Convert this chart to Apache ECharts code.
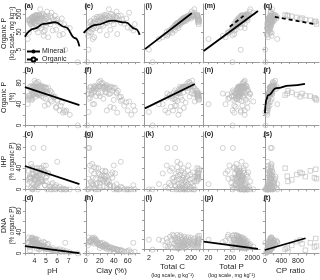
<!DOCTYPE html>
<html><head><meta charset="utf-8">
<script src="https://cdn.jsdelivr.net/npm/echarts@6/dist/echarts.min.js"></script>
<style>html,body{margin:0;padding:0;background:#fff}#c{width:320px;height:280px}</style>
</head><body><div id="c"></div>
<script>
// ---- Mineral soils (one entry per sample) ----
const mPH   = [7.8,6.7,3.4,5.2,6.2,4.8,6.5,5.6,4.3,5.9,4.6,6.8,4.1,5.0,3.9,5.4,4.4,6.3,4.7,3.8,5.1,4.2,7.1,4.9,4.0,5.3,4.5,3.7,5.7,4.3,4.8,4.1,6.0,4.6,3.9,5.0,4.2,5.5,4.4,3.8,4.7,5.2,4.0,6.4,4.5,3.6,4.9,4.2,5.4,4.6,3.9,5.0,4.3,5.8,4.1,4.7,3.7,4.4,5.1,4.0,4.8,4.2,3.8,4.5,5.5,4.1,6.6,6.0,5.9,3.5,4.8,4.9];
const mClay = [2,4,10,12,30,6,45,20,8,35,15,60,10,25,5,40,18,55,22,12,30,8,65,28,14,35,20,9,48,16,24,11,52,32,6,38,18,44,26,13,30,42,20,58,27,7,34,22,46,28,15,40,19,50,24,36,12,30,44,21,38,26,16,33,62,28,70,50,40,4,3,68];
const mC    = [3,2,6,9,12,14,16,18,20,22,25,28,30,32,35,36,38,40,42,44,46,48,50,50,55,58,60,62,65,68,70,72,75,78,80,82,85,88,90,95,98,100,105,110,112,115,125,130,135,140,145,150,160,170,175,185,195,205,215,225,240,255,270,285,300,310,60,45,90,26,15,34];
const mP    = [250,590,20,120,250,180,300,220,150,350,280,600,240,400,260,500,320,700,380,300,450,350,900,480,400,600,450,380,800,500,560,430,1000,600,450,700,520,900,620,500,750,850,600,1200,700,520,900,700,1100,800,650,1000,820,1400,780,1100,700,1000,1500,900,1300,1100,900,1600,2200,1200,900,650,1200,160,90,300];
const mCP   = [16,10,300,75,48,78,53,82,133,63,89,47,125,80,135,72,119,57,110,147,102,137,56,104,138,97,133,163,81,136,125,167,75,130,178,117,163,98,145,190,131,118,175,92,160,221,139,186,123,175,223,150,195,121,224,168,279,205,143,250,185,232,300,178,136,258,67,69,75,163,167,113];
const mOrgP = [1,5,20,25,33,50,38,60,47,66,82,88,72,110,94,132,105,143,126,99,154,115,82,165,149,198,182,138,231,192,220,165,264,231,176,275,209,308,248,198,297,330,242,286,275,209,358,286,396,330,264,385,341,412,330,520,286,418,700,374,468,440,352,950,600,451,138,165,220,44,30,60];
const mPct  = [0,25,40,40,28,52,24,55,58,35,55,28,62,50,66,48,60,37,61,63,62,60,20,62,68,60,73,66,53,70,71,70,48,70,71,71,73,62,73,72,72,71,73,43,71,73,72,79,65,75,74,70,82,54,80,73,74,76,60,84,65,73,71,59,45,68,28,46,33,50,60,37];
const mIHP  = [0,0,10,30,5,45,2,12,35,8,40,0,22,15,78,6,30,0,18,42,25,10,0,33,20,5,28,48,0,12,35,8,3,18,2,22,40,10,26,0,15,30,5,0,20,14,8,25,0,35,10,45,0,5,18,28,3,12,0,20,32,6,0,15,0,24,0,52,0,20,78,8];
const mDNA  = [0,20,20,18,8,22,6,10,26,5,20,4,28,12,24,8,18,3,14,30,16,22,2,10,27,9,15,29,6,19,13,25,5,11,21,8,17,7,14,26,12,9,20,4,16,23,11,18,7,13,25,9,16,5,20,12,24,14,8,19,10,15,22,11,6,17,3,7,4,30,15,20];

// ---- Organic soils ----
const oPH   = [3.6,3.8,4.0,3.5,4.2,3.9,4.4,3.7,4.1,3.6,4.6,3.8];
const oC    = [420,450,400,470,380,430,390,460,410,440,360,480];
const oP    = [350,500,620,420,700,560,800,300,480,450,660,390];
const oCP   = [1200,900,650,1100,540,770,490,1250,850,980,560,1230];
const oOrgP = [180,300,380,230,420,330,450,140,260,250,400,200];
const oPct  = [52,60,62,55,60,58,57,48,54,56,65,50];
const oIHP  = [22,30,18,35,25,28,40,20,32,24,15,38];
const oDNA  = [12,18,15,20,10,22,8,14,25,6,4,28];

// ---- Fitted lines (x, y in data units) ----
const fitA  = [[3.15,27],[4.0,77],[4.8,143],[5.8,175],[6.7,93],[7.6,22],[7.95,7.7]];
const fitE  = [[-3,44],[15,126],[38,214],[57,170],[71,74],[77,34]];
const fitI  = [[1.3,5.4],[214,562]];
const fitMm = [[12,4.2],[3600,760]];
const fitMo = [[186,98],[794,398]];
const fitQo = [[242,355],[1186,138]];
const fitB  = [[3.15,72],[7.95,38]];
const fitJ  = [[1.3,32],[300,78]];
const fitR  = [[3,23],[15,38],[30,48],[80,57],[280,70],[600,75],[970,78]];
const fitC  = [[3.15,44],[7.95,10]];
const fitD  = [[3.15,13.5],[7.95,0.5]];
const fitP  = [[12,16],[3600,1.5]];
const fitT  = [[0,6.4],[985,28.5]];

// ---- Axis ticks ----
const pHTicks = [4,5,6,7], pHMinor=[4,5,6,7,8];
const clayTicks = [0,20,40,60], clayMinor=[0,10,20,30,40,50,60,70];
const cTicks = [2,20,200], cMinor=[2,5,10,20,50,100,200,500];
const pTicks = [20,200,2000], pMinor=[20,50,100,200,500,1000,2000];
const cpTicks = [0,400,800], cpMinor=[0,200,400,600,800,1000,1200];
const logPTicks = [5,50,500];
const pctTicks = [0,40,80], pctMinor=[0,20,40,60,80,100];

const letters = 'abcdefghijklmnopqrst'.split('');
const L = v => Math.log10(v);
const sup = '\u207B\u00B9';

const cols = [
  {m:mPH, o:oPH, log:false, min:3.15, max:8.0, lab:pHTicks, tk:pHMinor, name:'pH'},
  {m:mClay, o:null, log:false, min:-4, max:77.5, lab:clayTicks, tk:clayMinor, name:'Clay (%)'},
  {m:mC, o:oC, log:true, min:0.07, max:2.77, lab:cTicks, tk:cMinor, name:'{a|Total C}\n{b|(log scale, g kg'+sup+')}'},
  {m:mP, o:oP, log:true, min:1.05, max:3.65, lab:pTicks, tk:pMinor, name:'{a|Total P}\n{b|(log scale, mg kg'+sup+')}'},
  {m:mCP, o:oCP, log:false, min:-70, max:1310, lab:cpTicks, tk:cpMinor, name:'CP ratio'}
];
const rows = [
  {m:mOrgP, o:oOrgP, log:true, min:-0.05, max:3.27, lab:logPTicks, tk:logPTicks, name:'{a|Organic P}\n{b|(log scale, mg kg'+sup+')}'},
  {m:mPct, o:oPct, log:false, min:-3, max:108, lab:pctTicks, tk:pctMinor, name:'{a|Organic P}\n{b|(%)}'},
  {m:mIHP, o:oIHP, log:false, min:-3, max:108, lab:pctTicks, tk:pctMinor, name:'{a|IHP}\n{b|(% organic P)}'},
  {m:mDNA, o:oDNA, log:false, min:-3, max:108, lab:pctTicks, tk:pctMinor, name:'{a|DNA}\n{b|(% organic P)}'}
];
const fits = {
  '0-0':[[fitA,0]], '0-1':[[fitE,0]], '0-2':[[fitI,0]], '0-3':[[fitMm,0],[fitMo,1]], '0-4':[[fitQo,1]],
  '1-0':[[fitB,0]], '1-2':[[fitJ,0]], '1-4':[[fitR,0]],
  '2-0':[[fitC,0]],
  '3-0':[[fitD,0]], '3-3':[[fitP,0]], '3-4':[[fitT,0]]
};

const lefts=[23,83,144,203,262], tops=[4,68,132,196], W=57, H=59;
const FONT='Liberation Sans, Arial, sans-serif';
const axisCol='#9a9a9a', txtCol='#222', ptCol='#b8b8b8';
const grid=[], xAxis=[], yAxis=[], series=[], title=[];
const logFmt = v => String(Math.round(Math.pow(10, v)));

for (let c=0;c<5;c++){
  for (let r=0;r<4;r++){
    const idx=c*4+r, col=cols[c], row=rows[r];
    grid.push({left:lefts[c], top:tops[r], width:W, height:H});
    const tx = v => col.log ? L(v) : v;
    const ty = v => row.log ? L(v) : v;
    xAxis.push({type:'value', gridIndex:idx, min:col.min, max:col.max,
      axisLine:{show:true, lineStyle:{color:axisCol, width:1}},
      axisTick:{show:true, length:2, lineStyle:{color:axisCol}, customValues: col.tk.map(tx)},
      axisLabel:{show:r===3, margin:3, fontSize:7, color:txtCol, fontFamily:FONT,
        customValues: col.lab.map(tx), formatter: col.log ? logFmt : (v=>String(v))},
      splitLine:{show:false},
      name: r===3 ? col.name : '', nameLocation:'middle', nameGap:10,
      nameTextStyle:{fontSize:8, color:txtCol, fontFamily:FONT, lineHeight:9,
        rich:{a:{fontSize:8, lineHeight:9, color:txtCol, fontFamily:FONT}, b:{fontSize:5.5, lineHeight:8, color:txtCol, fontFamily:FONT}}}
    });
    yAxis.push({type:'value', gridIndex:idx, min:row.min, max:row.max,
      axisLine:{show:true, lineStyle:{color:axisCol, width:1}},
      axisTick:{show:true, length:2, lineStyle:{color:axisCol}, customValues: row.tk.map(ty)},
      axisLabel:{show:c===0, rotate:90, margin:2, fontSize:6.5, color:txtCol, fontFamily:FONT,
        customValues: row.lab.map(ty), formatter: row.log ? logFmt : (v=>String(v))},
      splitLine:{show:false},
      name: c===0 ? row.name : '', nameLocation:'middle', nameRotate:90, nameGap:7,
      nameTextStyle:{fontSize:7, color:txtCol, fontFamily:FONT,
        rich:{a:{fontSize:7, lineHeight:8, color:txtCol, fontFamily:FONT}, b:{fontSize:6.3, lineHeight:7, color:txtCol, fontFamily:FONT}}}
    });
    title.push({text:'('+letters[idx]+')', left:lefts[c]+1.5, top:tops[r]-1, padding:0,
      textStyle:{fontSize:7, fontWeight:'bold', color:txtCol, fontFamily:FONT}});
    const md=[];
    for (let i=0;i<col.m.length;i++){ const x=col.m[i], y=row.m[i]; if(x==null||y==null) continue; md.push([tx(x),ty(y)]); }
    series.push({type:'scatter', name:'mpts', xAxisIndex:idx, yAxisIndex:idx, data:md, symbol:'circle', symbolSize:5,
      itemStyle:{color:'rgba(255,255,255,0)', borderColor:ptCol, borderWidth:0.8}, silent:true, z:2});
    if (col.o){
      const od=[];
      for (let i=0;i<col.o.length;i++) od.push([tx(col.o[i]), ty(row.o[i])]);
      series.push({type:'scatter', name:'opts', xAxisIndex:idx, yAxisIndex:idx, data:od, symbol:'rect', symbolSize:4.5,
        itemStyle:{color:'rgba(255,255,255,0)', borderColor:ptCol, borderWidth:0.8}, silent:true, z:2});
    }
    (fits[r+'-'+c]||[]).forEach(([f,dashed])=>{
      series.push({type:'line', name: dashed?'Organic':'Mineral', xAxisIndex:idx, yAxisIndex:idx,
        data: f.map(p=>[tx(p[0]), ty(p[1])]), showSymbol:false,
        symbol: dashed?'emptyCircle':'none', symbolSize:5,
        itemStyle:{color:'#000', borderColor:'#888'},
        smooth: f.length>2 ? 0.5 : false, smoothMonotone:'x',
        lineStyle:{color:'#000', width:1.8, type: dashed?[4,3]:'solid'}, z:5, silent:true});
    });
  }
}

const chart = echarts.init(document.getElementById('c'), null, {renderer:'canvas'});
chart.setOption({
  animation:false, backgroundColor:'#fff',
  title, grid, xAxis, yAxis, series,
  legend:{data:['Mineral','Organic'], left:26, top:48, orient:'vertical', itemGap:1, itemWidth:13, itemHeight:5,
    padding:0, selectedMode:false, textStyle:{fontSize:7, color:txtCol, fontFamily:FONT, padding:[0,0,0,-3]}}
});
</script></body></html>
